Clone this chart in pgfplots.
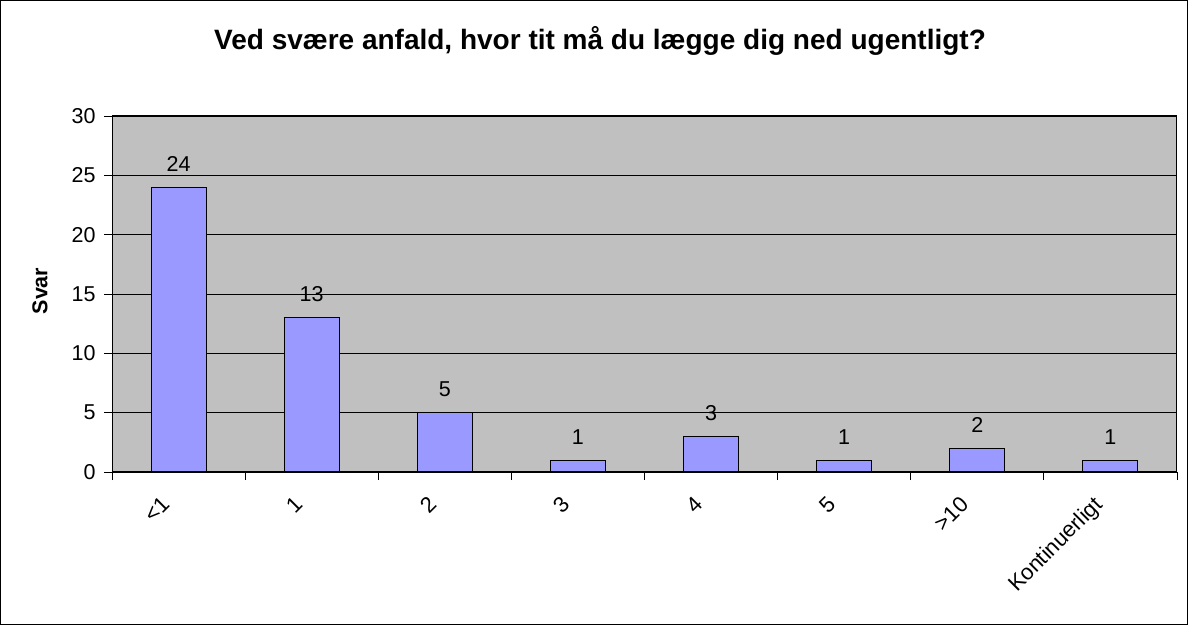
\documentclass[border=0pt]{standalone}
\usepackage{fontspec}
\setmainfont{Liberation Sans}
\usepackage{pgfplots}
\pgfplotsset{compat=1.18}
\definecolor{plotgray}{HTML}{C0C0C0}
\definecolor{barblue}{HTML}{9999FF}
\begin{document}
\begin{tikzpicture}
\useasboundingbox (0,0) rectangle (1188bp,625bp);
\draw[line width=1bp] (0.5bp,0.5bp) rectangle (1187.5bp,624.5bp);
\begin{axis}[
  at={(112bp,153bp)}, anchor=south west,
  scale only axis, width=1065bp, height=356bp,
  xmin=-0.5, xmax=7.5, ymin=0, ymax=30,
  ytick={0,5,...,30},
  xtick={-0.5,0.5,...,7.5},
  x tick label as interval,
  xticklabels={<1,1,2,3,4,5,>10,Kontinuerligt},
  xtick pos=bottom, ytick pos=left,
  /pgf/number format/assume math mode=true,
  ymajorgrids,
  grid style={black, line width=0.8bp},
  axis background/.style={fill=plotgray},
  tick align=outside, major tick length=8bp,
  tick style={black, line width=0.8bp},
  axis line style={black, line width=1bp},
  yticklabel style={font=\fontsize{21.5bp}{26bp}\selectfont, xshift=-5bp},
  xticklabel style={font=\fontsize{22bp}{26bp}\selectfont, xshift=-18bp, rotate=45, anchor=north east},
  xticklabel shift=10bp,
  ybar, bar width=55bp,
  nodes near coords,
  nodes near coords style={font=\fontsize{21.5bp}{26bp}\selectfont, anchor=base, yshift=16bp},
]
\addplot[fill=barblue, draw=black, line width=1bp] coordinates {
  (0,24) (1,13) (2,5) (3,1) (4,3) (5,1) (6,2) (7,1)
};
\end{axis}
\node[font=\bfseries\fontsize{28bp}{32bp}\selectfont, anchor=base] at (600bp,575bp) {Ved svære anfald, hvor tit må du lægge dig ned ugentligt?};
\node[font=\bfseries\fontsize{21.5bp}{26bp}\selectfont, rotate=90] at (40bp,334bp) {Svar};
\end{tikzpicture}
\end{document}
